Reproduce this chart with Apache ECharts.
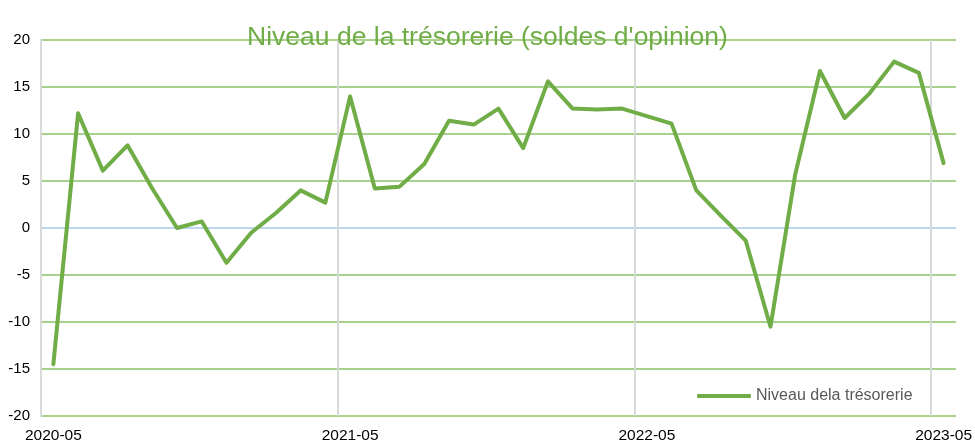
<!DOCTYPE html>
<html>
<head>
<meta charset="utf-8">
<script src="https://cdn.jsdelivr.net/npm/echarts@6/dist/echarts.min.js"></script>
<style>
  html, body { margin: 0; padding: 0; background: #fff; }
  #chart { width: 975px; height: 444px; }
</style>
</head>
<body>
<div id="chart"></div>
<script>
const months = [
  '2020-05', '2020-06', '2020-07', '2020-08', '2020-09', '2020-10', '2020-11', '2020-12',
  '2021-01', '2021-02', '2021-03', '2021-04', '2021-05', '2021-06', '2021-07', '2021-08',
  '2021-09', '2021-10', '2021-11', '2021-12', '2022-01', '2022-02', '2022-03', '2022-04',
  '2022-05', '2022-06', '2022-07', '2022-08', '2022-09', '2022-10', '2022-11', '2022-12',
  '2023-01', '2023-02', '2023-03', '2023-04', '2023-05'
];

const tresorerie = [
  -14.5, 12.2, 6.1, 8.8, 4.2, 0.0, 0.7, -3.7, -0.5, 1.6, 4.0, 2.7,
  14.0, 4.2, 4.4, 6.8, 11.4, 11.0, 12.7, 8.5, 15.6, 12.7, 12.6, 12.7,
  11.9, 11.1, 4.0, 1.3, -1.35, -10.5, 5.7, 16.7, 11.7, 14.3, 17.7, 16.5, 6.9
];

const yTicks = [-20, -15, -10, -5, 0, 5, 10, 15, 20];

const green = '#70ad47';
const gridGreen = '#a9d18e';
const zeroBlue = '#bdd7ee';
const vGray = '#d9d9d9';

const chart = echarts.init(document.getElementById('chart'), null, { renderer: 'canvas' });

chart.setOption({
  animation: false,
  backgroundColor: '#fff',
  textStyle: { fontFamily: 'Liberation Sans, Arial, sans-serif' },
  title: {
    text: "Niveau de la trésorerie (soldes d'opinion)",
    left: 'center',
    top: 19,
    textStyle: { color: green, fontSize: 26.5, fontWeight: 'normal', fontFamily: 'Liberation Sans, Arial, sans-serif' }
  },
  grid: { left: 41, right: 17, top: 40, bottom: 28, containLabel: false },
  legend: {
    left: 692,
    top: 383,
    itemWidth: 54,
    itemHeight: 4,
    itemGap: 4,
    icon: 'roundRect',
    textStyle: { color: '#595959', fontSize: 16 },
    data: ['Niveau dela trésorerie']
  },
  xAxis: {
    type: 'category',
    data: months,
    boundaryGap: true,
    axisLine: { show: false },
    axisTick: { show: false, interval: 11 },
    axisLabel: {
      color: '#000',
      fontSize: 15.5,
      margin: 12,
      interval: 11
    },
    splitLine: { show: true, interval: 11, showMaxLine: false, lineStyle: { color: vGray, width: 2 } }
  },
  yAxis: {
    type: 'value',
    min: yTicks[0],
    max: yTicks[yTicks.length - 1],
    interval: 5,
    axisLine: { show: true, lineStyle: { color: vGray, width: 2 } },
    axisTick: { show: false },
    axisLabel: { color: '#000', fontSize: 15, margin: 11 },
    splitLine: {
      show: true,
      lineStyle: { color: yTicks.map(t => t === 0 ? zeroBlue : gridGreen), width: 2 }
    }
  },
  series: [{
    name: 'Niveau dela trésorerie',
    type: 'line',
    data: tresorerie,
    symbol: 'none',
    lineStyle: { color: green, width: 4, cap: 'round', join: 'round' },
    itemStyle: { color: green }
  }]
});
</script>
</body>
</html>
